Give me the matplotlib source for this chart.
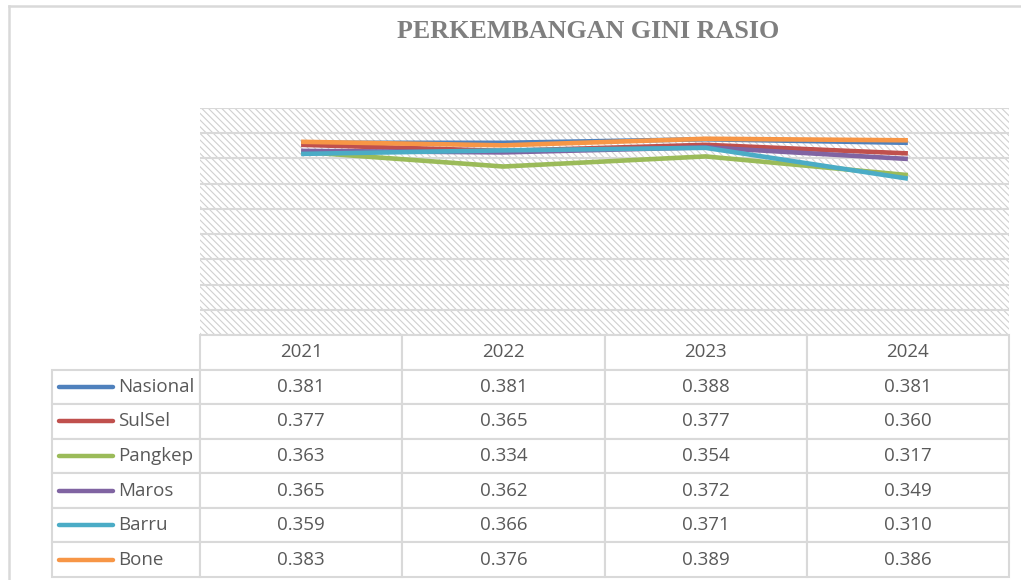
import matplotlib
matplotlib.use("Agg")
import matplotlib.pyplot as plt
from matplotlib.patches import Rectangle
from matplotlib.lines import Line2D
from matplotlib.table import Table
import numpy as np

years = ["2021", "2022", "2023", "2024"]
regions = ["Nasional", "SulSel", "Pangkep", "Maros", "Barru", "Bone"]
nasional = [0.381, 0.381, 0.388, 0.381]
sulsel = [0.377, 0.365, 0.377, 0.360]
pangkep = [0.363, 0.334, 0.354, 0.317]
maros = [0.365, 0.362, 0.372, 0.349]
barru = [0.359, 0.366, 0.371, 0.310]
bone = [0.383, 0.376, 0.389, 0.386]
series = [nasional, sulsel, pangkep, maros, barru, bone]
colors = ["#4F81BD", "#C0504D", "#9BBB59", "#8064A2", "#4BACC6", "#F79646"]

W, H = 1021, 580
plt.rcParams["hatch.linewidth"] = 0.8
plt.rcParams["hatch.color"] = "#d0d0d0"

fig = plt.figure(figsize=(W / 100, H / 100), dpi=100)

# plot area in pixels: x 200..1009, y 108..335
ax = fig.add_axes([200 / W, 1 - 335 / H, 809 / W, 227 / H])
bg = Rectangle((0, 0), 1, 1, transform=ax.transAxes, facecolor="white",
               edgecolor="#d0d0d0", hatch="\\\\\\\\\\", linewidth=0, zorder=0)
ax.add_patch(bg)
ax.patch.set_visible(False)

x = np.arange(len(years))
for vals, c in zip(series, colors):
    ax.plot(x, vals, color=c, lw=3.3, solid_capstyle="butt",
            solid_joinstyle="round", zorder=3)

ax.set_xlim(-0.5, len(years) - 0.5)
ax.set_ylim(0, 0.45)
ax.set_yticks(np.arange(0, 0.451, 0.05))
ax.yaxis.grid(True, color="#d9d9d9", lw=1.5, zorder=1)
ax.set_axisbelow(True)
ax.tick_params(left=False, bottom=False, labelleft=False, labelbottom=False)
for s in ax.spines.values():
    s.set_visible(False)

# data table below the plot (header row + one row per region), sizes in axes units
col_w = 1 / len(years)
label_w = 148 / 809
row_h = (242 / 227) / (len(regions) + 1)
tbl = Table(ax, bbox=[0, -row_h * (len(regions) + 1), 1, row_h * (len(regions) + 1)])
for j, yr in enumerate(years):
    tbl.add_cell(0, j, width=col_w, height=row_h, text=yr, loc="center")
for i, (name, vals) in enumerate(zip(regions, series)):
    cell = tbl.add_cell(i + 1, -1, width=label_w, height=row_h, text=name, loc="left")
    cell.PAD = 66 / 148
    for j, v in enumerate(vals):
        tbl.add_cell(i + 1, j, width=col_w, height=row_h, text="%.3f" % v, loc="center")
tbl.auto_set_font_size(False)
tbl.set_fontsize(13.5)
for cell in tbl.get_celld().values():
    cell.set_edgecolor("#d9d9d9")
    cell.set_linewidth(1.5)
    cell.get_text().set_color("#595959")
    cell.get_text().set_fontfamily("Open Sans")
ax.add_table(tbl)

# legend keys inside the row label cells
for i, c in enumerate(colors):
    yc = -row_h * (i + 1.5)
    ax.add_line(Line2D([-141 / 809, -87 / 809], [yc, yc], transform=ax.transAxes,
                       color=c, lw=3.2, solid_capstyle="round", clip_on=False))

fig.text(588 / W, 1 - 31 / H, "PERKEMBANGAN GINI RASIO", ha="center", va="center",
         fontsize=18.7, fontweight="bold", color="#7f7f7f", family="Liberation Serif")

# outer chart frame (continues past the image edge)
fig.add_artist(Line2D([9 / W, 1], [1 - 6 / H, 1 - 6 / H], color="#d9d9d9", lw=1.8))
fig.add_artist(Line2D([9 / W, 9 / W], [0, 1 - 6 / H], color="#d9d9d9", lw=1.8))

fig.savefig("out.png", dpi=100)
